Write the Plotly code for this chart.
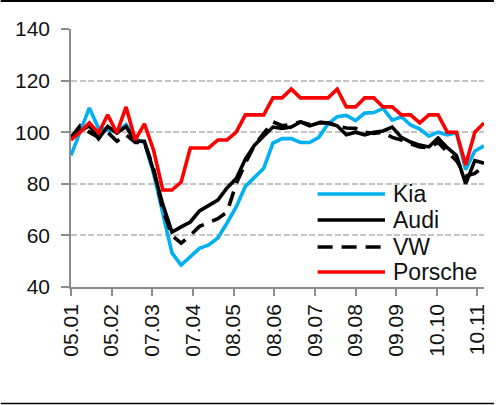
import plotly.graph_objects as go
import pandas as pd

# ---- data (weekly index values, start 05.01.2008) ----
start_date = "2008-01-05"
n_weeks = 46

kia = [91, 100, 109.4, 101.5, 101, 100, 103, 97.5, 96, 84, 69, 53.2, 48.5, 51.6, 55, 56.3,
       59, 64.8, 71, 79, 82.6, 86, 95.8, 97.5, 97.5, 96, 96, 98, 103.2, 106, 106.5, 104.5,
       107.4, 107.6, 109.2, 104.7, 106, 102.8, 101.2, 98.5, 100, 99, 99.8, 85.5, 92.7, 94.7]
audi = [98, 100.5, 102.5, 97.5, 102.2, 99.7, 102.2, 96.5, 96.5, 85, 72, 61.3, 63.3, 65.2, 69.5, 71.5,
        73.7, 78.4, 82, 89.6, 95, 98.5, 102, 101.5, 102, 104, 102.5, 103.6, 103.6, 102.5, 99, 100,
        99, 100, 100.5, 102, 98, 96.2, 95, 94.3, 97.7, 94, 91, 80, 89, 88]
vw = [98, 102.5, 100, 98, 100, 96.5, 99, 96, 96, 86, 70, 60, 57, 60, 63.5, 65,
      66.5, 69, 80, 88, 95, 99.5, 104, 102.5, 103, 104, 103, 104, 103.6, 102.5, 101.6, 101.5,
      100, 99.5, 100, 98, 97, 95.5, 94.3, 94, 96, 92.4, 89, 83, 84, 87]
porsche = [97, 100, 103.6, 99.7, 106.7, 99.7, 109.8, 97, 103.2, 93, 77.6, 77.6, 80.7, 93.9, 93.9, 93.9,
           97, 97, 100, 106.7, 106.7, 106.7, 113.3, 113.3, 116.7, 113.3, 113.3, 113.3, 113.3, 116.7, 109.8, 109.8,
           113.3, 113.3, 109.8, 109.8, 106.7, 106.7, 103.6, 106.7, 106.7, 100, 100, 87.3, 100, 103.6]

series_names = ["Kia", "Audi", "VW", "Porsche"]
series_colors = ["#00B0F0", "#000000", "#000000", "#FF0000"]
series_dash = ["solid", "solid", "15px,9px", "solid"]

tick_labels = ["05.01", "05.02", "07.03", "07.04", "08.05", "08.06",
               "09.07", "09.08", "09.09", "10.10", "10.11"]
year = 2008
y_ticks = [40, 60, 80, 100, 120, 140]

# ---- build ----
dates = pd.date_range(start_date, periods=n_weeks, freq="7D")
tick_dates = [pd.Timestamp(year=year, month=int(t[3:]), day=int(t[:2])) for t in tick_labels]

FONT = "Liberation Sans, Arial, Helvetica, sans-serif"
AX = "#8C8C8C"

fig = go.Figure()
for name, vals, col, dash in zip(series_names, [kia, audi, vw, porsche], series_colors, series_dash):
    fig.add_trace(go.Scatter(x=dates, y=vals, mode="lines", name=name,
                             line=dict(color=col, width=3.6, dash=dash),
                             showlegend=False))

L, R, T, B = 71, 10, 29, 118
W, H = 498, 405
pw, ph = W - L - R, H - T - B

def px_x(x):
    return (x - L) / pw

def px_y(y):
    return (H - B - y) / ph

shapes = [
    dict(type="rect", xref="paper", yref="paper", x0=px_x(0), x1=px_x(W), y0=px_y(2.0), y1=px_y(0),
         fillcolor="#000000", line=dict(width=0), layer="above"),
    dict(type="line", xref="paper", yref="paper", x0=px_x(0), x1=px_x(W), y0=px_y(403.5), y1=px_y(403.5),
         line=dict(color="#000000", width=1.6), layer="above"),
    dict(type="rect", xref="paper", yref="paper", x0=px_x(315), x1=1.0, y0=px_y(285), y1=px_y(187),
         fillcolor="white", line=dict(width=0), layer="between"),
]
annotations = []
leg_y = [194, 220, 247, 272]
for name, col, dash, yy in zip(series_names, series_colors, series_dash, leg_y):
    shapes.append(dict(type="line", xref="paper", yref="paper", x0=px_x(320), x1=px_x(388),
                       y0=px_y(yy), y1=px_y(yy), line=dict(color=col, width=3.6, dash=dash), layer="above"))
    annotations.append(dict(xref="paper", yref="paper", x=px_x(394), y=px_y(yy), text=name,
                            showarrow=False, xanchor="left", yanchor="middle",
                            font=dict(family=FONT, size=23, color="#111111")))

fig.update_layout(
    width=W, height=H,
    margin=dict(l=L, r=R, t=T, b=B, pad=0),
    plot_bgcolor="white", paper_bgcolor="white",
    showlegend=False,
    font=dict(family=FONT, size=21, color="#111111"),
    shapes=shapes, annotations=annotations,
)
fig.update_xaxes(
    type="date", range=[dates[0], dates[-1]],
    tickmode="array", tickvals=tick_dates, ticktext=tick_labels, tickangle=-90,
    ticks="outside", ticklen=7, tickwidth=1.5, tickcolor=AX,
    showline=True, linecolor=AX, linewidth=1.5, showgrid=False, zeroline=False,
    tickfont=dict(family=FONT, size=21, color="#111111"),
)
fig.update_yaxes(
    range=[40, 140], tickmode="array", tickvals=y_ticks,
    ticks="outside", ticklen=8, tickwidth=1.5, tickcolor=AX,
    showline=True, linecolor=AX, linewidth=1.5, ticklabelstandoff=7,
    showgrid=True, gridcolor="#C4C4C4", gridwidth=1.6, griddash="6px,2.5px", zeroline=False,
    tickfont=dict(family=FONT, size=21, color="#111111"),
)

post = ("document.documentElement.style.overflow='hidden';"
        "document.documentElement.style.margin='0';"
        "document.body.style.margin='0';document.body.style.overflow='hidden';"
        "var d=document.getElementById('{plot_id}');"
        "d.style.position='fixed';d.style.top='0px';d.style.left='0px';"
        "window.scrollTo(0,0);")
fig.write_html("out.html", config={"displayModeBar": False}, post_script=post)
